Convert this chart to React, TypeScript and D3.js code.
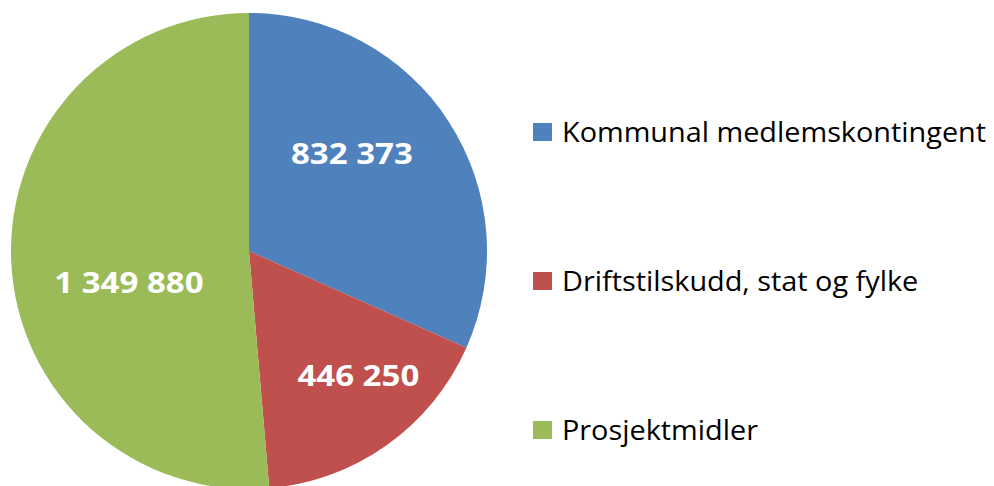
import React from "react";
import * as d3 from "d3";

const categories = ["Kommunal medlemskontingent", "Driftstilskudd, stat og fylke", "Prosjektmidler"];
const values = [832373, 446250, 1349880];
const labels = ["832 373", "446 250", "1 349 880"];
const colors = ["#4F81BD", "#C0504D", "#9BBB59"];

const W = 994;
const H = 486;

export default function App() {
  const cx = 249;
  const cy = 251;
  const r = 238;
  const pie = d3.pie<number>().sort(null).value((d) => d)(values);
  const arc = d3.arc<d3.PieArcDatum<number>>().innerRadius(0).outerRadius(r);
  // label placement tweaks (angle shift in radians, radius fraction)
  const tweak = [
    { da: -0.19, rf: 0.6 },
    { da: -0.11, rf: 0.69 },
    { da: -0.2, rf: 0.52 },
  ];
  const legendY = d3.scalePoint<number>().domain([0, 1, 2]).range([132, 430]);
  return (
    <svg width={W} height={H} style={{ position: "absolute", left: 0, top: 0, background: "#fff" }}>
      <g transform={`translate(${cx},${cy})`}>
        {pie.map((p, i) => (
          <path key={i} d={arc(p) || ""} fill={colors[i]} />
        ))}
        {pie.map((p, i) => {
          const a = (p.startAngle + p.endAngle) / 2 + tweak[i].da;
          const rr = r * tweak[i].rf;
          const x = Math.sin(a) * rr;
          const y = -Math.cos(a) * rr;
          return (
            <g key={i} transform={`translate(${x},${y + 2}) scale(1.18,1)`}>
              <text
                x={0}
                y={0}
                dy="0.36em"
                textAnchor="middle"
                fill="#fff"
                fontFamily="'Open Sans', sans-serif"
                fontWeight={700}
                fontSize={28}
              >
                {labels[i]}
              </text>
            </g>
          );
        })}
      </g>
      <g>
        {categories.map((c, i) => (
          <g key={i} transform={`translate(533,${legendY(i)})`}>
            <rect x={0} y={-9} width={19} height={18} fill={colors[i]} />
            <g transform="translate(29,0) scale(1.03,1)">
              <text x={0} y={0} dy="0.36em" fill="#000" fontFamily="'Open Sans', sans-serif" fontSize={28}>
                {c}
              </text>
            </g>
          </g>
        ))}
      </g>
    </svg>
  );
}
